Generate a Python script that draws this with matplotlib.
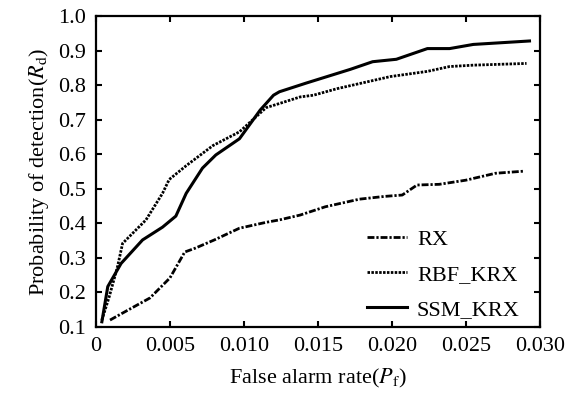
import matplotlib
matplotlib.use("Agg")
import matplotlib.pyplot as plt
from matplotlib.ticker import FixedLocator, FixedFormatter

plt.rcParams['font.family'] = ['Liberation Serif', 'DejaVu Serif']
plt.rcParams['mathtext.fontset'] = 'stix'

# RX
rx_x = [0.00095, 0.002, 0.00365, 0.005, 0.006, 0.0067, 0.008, 0.0097, 0.0115, 0.0124,
        0.0138, 0.0155, 0.0178, 0.0195, 0.0207, 0.0217, 0.0232, 0.0250, 0.0270, 0.0289]
rx_y = [0.12, 0.145, 0.184, 0.242, 0.317, 0.328, 0.352, 0.386, 0.403, 0.41,
        0.424, 0.448, 0.470, 0.478, 0.482, 0.511, 0.513, 0.525, 0.545, 0.551]

# RBF_KRX
rbf_x = [0.0004, 0.0009, 0.00146, 0.0018, 0.00338, 0.0045, 0.00495, 0.0061, 0.0079, 0.0097,
         0.0115, 0.0124, 0.0138, 0.0147, 0.0163, 0.0199, 0.0224, 0.0239, 0.0255, 0.0291]
rbf_y = [0.12, 0.188, 0.275, 0.342, 0.41, 0.487, 0.527, 0.567, 0.625, 0.665,
         0.735, 0.747, 0.766, 0.771, 0.79, 0.825, 0.84, 0.854, 0.858, 0.863]

# SSM_KRX
ssm_x = [0.0004, 0.0008, 0.0017, 0.00315, 0.0045, 0.0054, 0.0061, 0.0072, 0.0081, 0.0097,
         0.0111, 0.0120, 0.0124, 0.0142, 0.0172, 0.0187, 0.0203, 0.0224, 0.0239, 0.0255, 0.0293]
ssm_y = [0.115, 0.217, 0.284, 0.352, 0.389, 0.421, 0.487, 0.56, 0.598, 0.645,
         0.728, 0.771, 0.781, 0.806, 0.846, 0.868, 0.875, 0.906, 0.906, 0.918, 0.928]

xticks = [0, 0.005, 0.010, 0.015, 0.020, 0.025, 0.030]
xticklabels = ["0", "0.005", "0.010", "0.015", "0.020", "0.025", "0.030"]
yticks = [0.1, 0.2, 0.3, 0.4, 0.5, 0.6, 0.7, 0.8, 0.9, 1.0]
yticklabels = ["0.1", "0.2", "0.3", "0.4", "0.5", "0.6", "0.7", "0.8", "0.9", "1.0"]

fig = plt.figure(figsize=(5.78, 3.93), dpi=100)
ax = fig.add_axes([0.166, 0.168, 0.768, 0.791])

ax.plot(rx_x, rx_y, color='black', lw=2.0, dashes=(2.5, 0.7, 0.8, 0.7), label='RX')
ax.plot(rbf_x, rbf_y, color='black', lw=2.0, dashes=(0.9, 0.5), label='RBF_KRX')
ax.plot(ssm_x, ssm_y, color='black', lw=2.2, linestyle='-', label='SSM_KRX')

ax.set_xlim(0, 0.030)
ax.set_ylim(0.1, 1.0)
ax.xaxis.set_major_locator(FixedLocator(xticks))
ax.xaxis.set_major_formatter(FixedFormatter(xticklabels))
ax.yaxis.set_major_locator(FixedLocator(yticks))
ax.yaxis.set_major_formatter(FixedFormatter(yticklabels))

for s in ax.spines.values():
    s.set_linewidth(1.6)
ax.tick_params(direction='in', length=4, width=1.5, top=True, right=True,
               labelsize=16, pad=7)
ax.set_xlabel(r"False alarm rate($\mathit{P}_\mathrm{f}$)", fontsize=16, labelpad=8)
ax.set_ylabel(r"Probability of detection($\mathit{R}_\mathrm{d}$)", fontsize=16, labelpad=5)

ax.legend(loc='lower right', bbox_to_anchor=(0.99, -0.027), frameon=False, fontsize=16,
          handlelength=1.8, handletextpad=0.45, labelspacing=0.65, borderpad=0.2)

fig.savefig("out.png", dpi=100)
